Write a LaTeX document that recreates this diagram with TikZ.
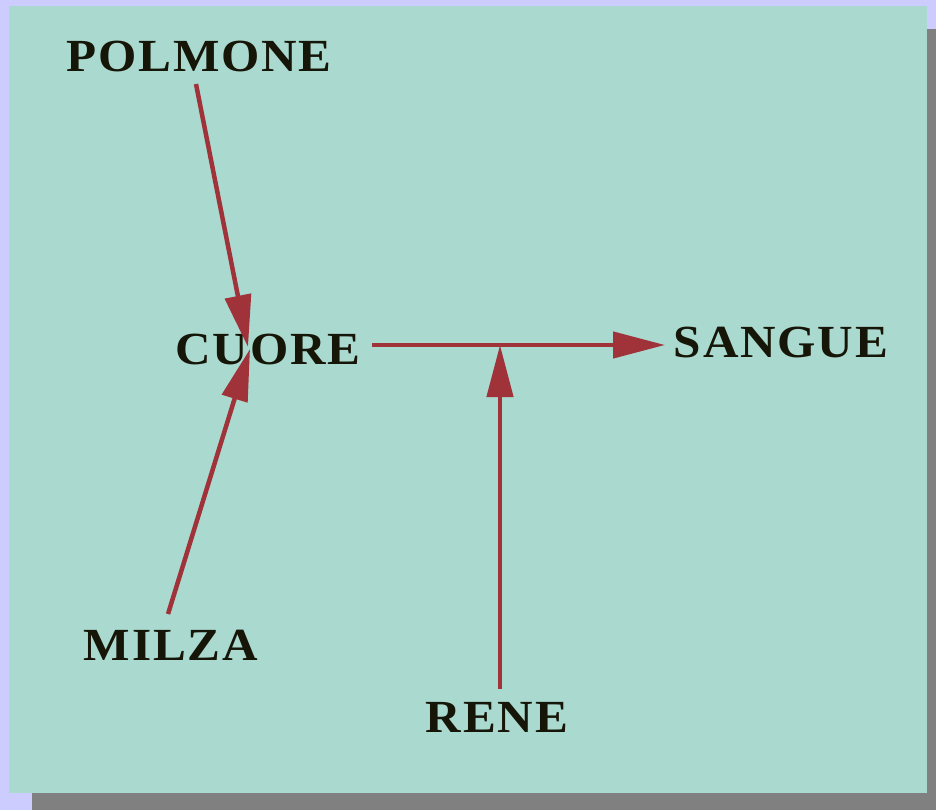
\documentclass[tikz,border=0pt]{standalone}
\usepackage{fontspec}
\setmainfont{Liberation Serif}[LetterSpace=4,FakeStretch=1.07]
\usetikzlibrary{arrows.meta}
\definecolor{bgl}{HTML}{CCCCFF}
\definecolor{teal}{HTML}{AAD9D0}
\definecolor{shad}{HTML}{808080}
\definecolor{arrc}{HTML}{A0333A}
\definecolor{txt}{HTML}{161608}
\begin{document}
\begin{tikzpicture}[x=1pt,y=-1pt,
  lbl/.style={inner sep=0pt,font=\fontsize{46}{50}\selectfont\bfseries,text=txt},
  arr/.style={draw=arrc,line width=4.5pt,-{Triangle[length=52pt,width=26pt]}}]
\useasboundingbox (0,0) rectangle (936,810);
\fill[bgl] (0,0) rectangle (936,810);
\fill[shad] (32,29) rectangle (936,810);
\fill[teal] (9,6) rectangle (927,793);
\node[lbl] (pol) at (199,56) {POLMONE};
\node[lbl] (cuore) at (268,349) {CUORE};
\node[lbl] (sangue) at (781,342) {SANGUE};
\node[lbl] (milza) at (171,645) {MILZA};
\node[lbl] (rene) at (497,717) {RENE};
\coordinate (polo) at (196,84);
\coordinate (cin1) at (248,347);
\coordinate (mio) at (168,614);
\coordinate (cin2) at (250,349);
\coordinate (cuo) at (372,345);
\coordinate (sin) at (665,345);
\coordinate (reo) at (500,689);
\coordinate (junc) at (500,345);
\draw[arr] (polo) -- (cin1);
\draw[arr] (mio) -- (cin2);
\draw[arr] (cuo) -- (sin);
\draw[arr] (reo) -- (junc);
\end{tikzpicture}
\end{document}
